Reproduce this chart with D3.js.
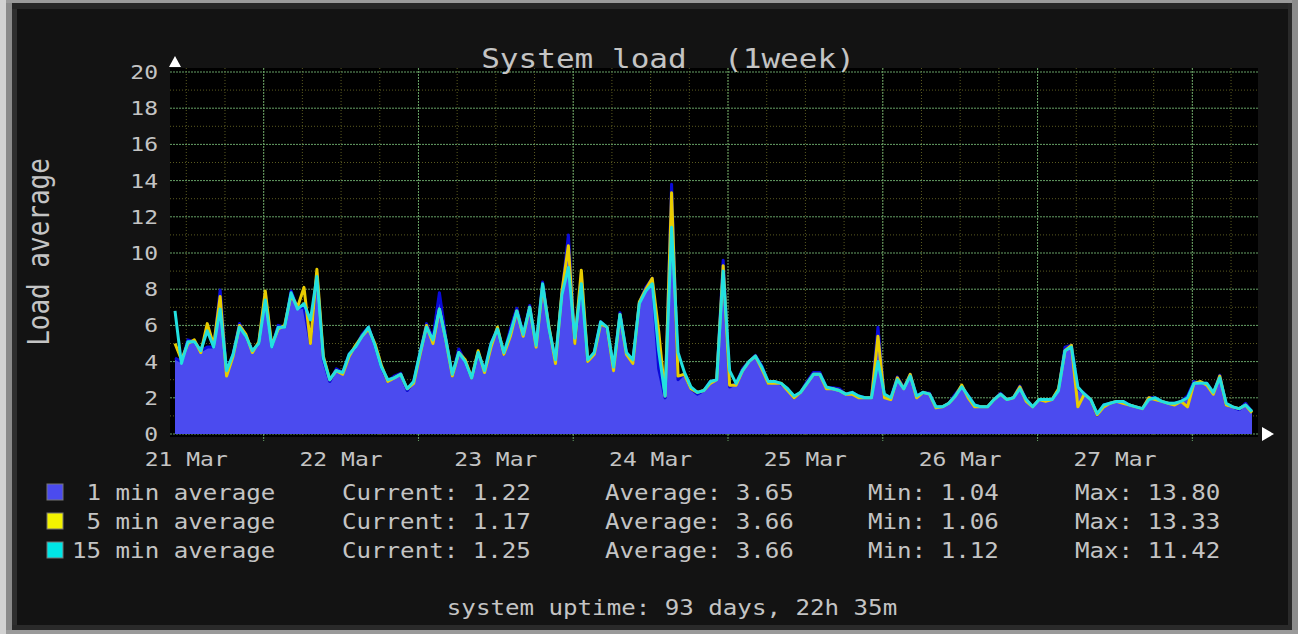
<!DOCTYPE html>
<html>
<head>
<meta charset="utf-8">
<script src="https://cdn.jsdelivr.net/npm/d3@7"></script>
<style>
  html, body { margin: 0; padding: 0; background: #131313; }
  text { font-family: "DejaVu Sans Mono", monospace; fill: #c4c4c4; white-space: pre; }
</style>
</head>
<body>
<svg id="chart"></svg>
<script>
const width = 1298;
const height = 634;

// hourly samples, starting 21 Mar 10:15
const startTime = new Date(2019, 2, 21, 10, 15);

const load1 = [
  4.2, 4.0, 5.2, 5.1, 4.6, 4.8, 4.8, 7.95, 3.4, 4.4,
  6.1, 5.4, 4.6, 5.0, 7.8, 4.8, 6.0, 5.9, 7.9, 6.95,
  7.0, 5.0, 8.9, 4.1, 2.9, 3.6, 3.4, 4.4, 4.8, 5.5,
  5.9, 4.9, 3.7, 2.9, 3.2, 3.35, 2.4, 2.9, 4.5, 6.1,
  5.3, 7.8, 5.3, 3.2, 4.7, 4.0, 3.1, 4.5, 3.5, 5.0,
  5.85, 4.4, 5.8, 6.95, 5.5, 7.1, 4.9, 8.4, 5.85, 4.0,
  7.8, 11.0, 5.0, 8.8, 4.0, 4.5, 6.2, 5.85, 3.6, 6.7,
  4.5, 4.0, 7.25, 8.1, 8.6, 3.6, 2.0, 13.8, 3.0, 3.35,
  2.5, 2.2, 2.4, 2.9, 3.0, 9.6, 2.6, 2.8, 3.6, 4.0,
  4.35, 3.75, 2.8, 2.9, 2.75, 2.5, 2.0, 2.3, 2.9, 3.4,
  3.4, 2.55, 2.55, 2.5, 2.2, 2.3, 2.1, 2.0, 2.0, 5.9,
  2.0, 2.0, 3.15, 2.55, 3.3, 2.1, 2.3, 2.25, 1.5, 1.5,
  1.7, 2.2, 2.65, 2.1, 1.6, 1.5, 1.5, 1.9, 2.25, 1.9,
  2.0, 2.65, 1.9, 1.5, 1.9, 1.9, 1.9, 2.45, 4.8, 4.9,
  2.5, 2.25, 1.9, 1.04, 1.6, 1.7, 1.8, 1.8, 1.6, 1.5,
  1.4, 2.0, 2.0, 1.8, 1.7, 1.7, 1.8, 2.1, 2.9, 2.8,
  2.8, 2.25, 3.25, 1.6, 1.5, 1.35, 1.7, 1.22
];

const load5 = [
  5.0, 4.1, 5.0, 5.2, 4.5, 6.1, 4.9, 7.6, 3.2, 4.3,
  6.0, 5.5, 4.5, 5.1, 7.9, 4.9, 5.8, 6.0, 7.7, 7.0,
  8.1, 5.0, 9.1, 4.3, 3.0, 3.5, 3.3, 4.3, 4.9, 5.4,
  5.8, 5.0, 3.8, 2.9, 3.1, 3.3, 2.5, 2.8, 4.4, 6.0,
  5.0, 6.9, 5.2, 3.2, 4.5, 4.1, 3.1, 4.6, 3.4, 4.8,
  5.9, 4.4, 5.4, 6.8, 5.4, 7.0, 4.8, 8.2, 5.9, 3.9,
  7.9, 10.4, 5.0, 9.05, 4.0, 4.4, 6.1, 5.9, 3.5, 6.6,
  4.4, 3.9, 7.3, 8.0, 8.6, 5.7, 2.1, 13.33, 3.2, 3.3,
  2.5, 2.3, 2.4, 2.8, 3.0, 9.3, 2.7, 2.7, 3.5, 4.0,
  4.3, 3.6, 2.8, 2.8, 2.8, 2.4, 2.0, 2.3, 2.8, 3.3,
  3.3, 2.5, 2.5, 2.4, 2.2, 2.2, 2.0, 2.0, 2.0, 5.4,
  2.0, 1.9, 3.1, 2.5, 3.3, 2.0, 2.3, 2.2, 1.45, 1.5,
  1.7, 2.1, 2.7, 2.0, 1.5, 1.5, 1.5, 1.9, 2.2, 1.9,
  2.0, 2.6, 1.8, 1.5, 1.9, 1.8, 1.9, 2.5, 4.6, 4.9,
  1.5, 2.2, 1.9, 1.06, 1.5, 1.7, 1.8, 1.7, 1.6, 1.5,
  1.4, 2.0, 1.9, 1.8, 1.7, 1.6, 1.8, 1.5, 2.8, 2.9,
  2.7, 2.2, 3.2, 1.6, 1.5, 1.4, 1.6, 1.17
];

const load15 = [
  6.8, 3.9, 5.1, 5.1, 4.6, 5.7, 4.8, 6.9, 3.5, 4.4,
  5.9, 5.4, 4.6, 5.0, 7.4, 4.8, 5.9, 5.9, 7.8, 6.9,
  7.2, 6.3, 8.7, 4.2, 3.0, 3.5, 3.4, 4.4, 4.8, 5.4,
  5.9, 4.9, 3.7, 3.0, 3.1, 3.3, 2.5, 2.9, 4.5, 5.9,
  5.2, 6.9, 5.2, 3.3, 4.5, 4.0, 3.1, 4.5, 3.5, 5.0,
  5.8, 4.5, 5.6, 6.8, 5.5, 7.0, 4.9, 8.3, 5.8, 4.1,
  7.7, 9.2, 5.3, 8.3, 4.1, 4.5, 6.2, 5.9, 3.7, 6.6,
  4.5, 4.1, 7.2, 7.9, 8.3, 4.6, 2.1, 11.42, 4.5, 3.4,
  2.6, 2.3, 2.4, 2.9, 3.0, 9.0, 3.5, 2.8, 3.5, 4.0,
  4.3, 3.7, 2.9, 2.9, 2.8, 2.5, 2.1, 2.3, 2.8, 3.3,
  3.3, 2.6, 2.5, 2.4, 2.2, 2.3, 2.1, 2.0, 2.0, 4.0,
  2.2, 2.0, 3.0, 2.5, 3.2, 2.1, 2.3, 2.2, 1.5, 1.5,
  1.7, 2.1, 2.6, 2.1, 1.6, 1.5, 1.5, 1.9, 2.2, 1.9,
  2.0, 2.5, 1.9, 1.5, 1.9, 1.9, 1.9, 2.4, 4.6, 4.8,
  2.6, 2.2, 1.9, 1.12, 1.6, 1.7, 1.8, 1.8, 1.6, 1.5,
  1.4, 1.9, 2.0, 1.8, 1.7, 1.7, 1.8, 2.0, 2.8, 2.8,
  2.8, 2.3, 3.1, 1.7, 1.5, 1.4, 1.6, 1.25
];

const yTicks = [0, 2, 4, 6, 8, 10, 12, 14, 16, 18, 20];

const legendLabels = [" 1 min average", " 5 min average", "15 min average"];
const legendColors = ["#4b4bef", "#f2f200", "#00e6e6"];
const currentVals = ["1.22", "1.17", "1.25"];
const averageVals = ["3.65", "3.66", "3.66"];
const minVals = ["1.04", "1.06", "1.12"];
const maxVals = ["13.80", "13.33", "11.42"];

const sx = 1.15; // text in the picture is a bit wider than normal

const svg = d3.select("#chart")
  .attr("width", width)
  .attr("height", height)
  .attr("viewBox", [0, 0, width, height]);

function label(parent, x, y, str, size, anchor) {
  return parent.append("text")
    .attr("xml:space", "preserve")
    .attr("transform", `translate(${x},${y}) scale(${sx},1)`)
    .attr("text-anchor", anchor || "start")
    .style("font-size", size + "px")
    .text(str);
}

// frame
svg.append("rect").attr("width", width).attr("height", height).attr("fill", "#131313");
svg.append("rect").attr("x", 0).attr("y", 0).attr("width", 6).attr("height", height).attr("fill", "#d2d2d2");
svg.append("rect").attr("x", 6).attr("y", 0).attr("width", 6).attr("height", height).attr("fill", "#8a8a8a");
svg.append("rect").attr("x", 12).attr("y", 3).attr("width", 5).attr("height", height - 6).attr("fill", "#2e2e2e");
svg.append("rect").attr("x", 6).attr("y", 0).attr("width", width - 6).attr("height", 3).attr("fill", "#9a9a9a");
svg.append("rect").attr("x", 12).attr("y", 3).attr("width", width - 18).attr("height", 6).attr("fill", "#262626");
svg.append("rect").attr("x", width - 10).attr("y", 3).attr("width", 4).attr("height", height - 6).attr("fill", "#2a2a2a");
svg.append("rect").attr("x", width - 6).attr("y", 0).attr("width", 6).attr("height", height).attr("fill", "#8c8c8c");
svg.append("rect").attr("x", 12).attr("y", height - 9).attr("width", width - 18).attr("height", 5).attr("fill", "#2a2a2a");
svg.append("rect").attr("x", 6).attr("y", height - 4).attr("width", width - 6).attr("height", 4).attr("fill", "#9a9a9a");

// scales
const times = load1.map((d, i) => d3.timeHour.offset(startTime, i));
const tEnd = times[times.length - 1];
const x = d3.scaleTime()
  .domain([times[0], tEnd])
  .range([175, 1252]);
const y = d3.scaleLinear().domain([0, 20]).range([434, 72]);

// canvas
svg.append("rect")
  .attr("x", 170).attr("y", 68)
  .attr("width", 1088).attr("height", 369)
  .attr("fill", "#000");

const grid = svg.append("g");
const minorY = d3.range(1, 20, 2);
const minorX = d3.timeHour.every(6).range(times[0], tEnd);
const majorX = d3.timeDay.range(times[0], tEnd);

grid.selectAll(".hmin")
  .data(minorY)
  .join("line")
  .attr("x1", 170).attr("x2", 1258)
  .attr("y1", d => y(d)).attr("y2", d => y(d))
  .attr("stroke", "#5a5a20").attr("stroke-dasharray", "1,2");

grid.selectAll(".vmin")
  .data(minorX)
  .join("line")
  .attr("x1", d => x(d)).attr("x2", d => x(d))
  .attr("y1", 68).attr("y2", 437)
  .attr("stroke", "#5a5a20").attr("stroke-dasharray", "1,2");

grid.selectAll(".hmaj")
  .data(yTicks)
  .join("line")
  .attr("x1", 170).attr("x2", 1258)
  .attr("y1", d => y(d)).attr("y2", d => y(d))
  .attr("stroke", "#66a066").attr("stroke-dasharray", "2,1");

grid.selectAll(".vmaj")
  .data(majorX)
  .join("line")
  .attr("x1", d => x(d)).attr("x2", d => x(d))
  .attr("y1", 68).attr("y2", 441)
  .attr("stroke", "#66a066").attr("stroke-dasharray", "2,1");

// series
const area = d3.area()
  .x((d, i) => x(times[i]))
  .y0(y(0))
  .y1(d => y(d));
const line = d3.line()
  .x((d, i) => x(times[i]))
  .y(d => y(d));

svg.append("path").datum(load1).attr("d", area).attr("fill", "#4b4bef");
svg.append("path").datum(load1).attr("d", line)
  .attr("fill", "none").attr("stroke", "#0a0ad8").attr("stroke-width", 3)
  .attr("stroke-linejoin", "round");
svg.append("path").datum(load5).attr("d", line)
  .attr("fill", "none").attr("stroke", "#e8cc00").attr("stroke-width", 3)
  .attr("stroke-linejoin", "round");
svg.append("path").datum(load15).attr("d", line)
  .attr("fill", "none").attr("stroke", "#22e0e0").attr("stroke-width", 3)
  .attr("stroke-linejoin", "round");

// arrows
svg.append("path").attr("d", "M169,67 L175,56 L181,67 Z").attr("fill", "#fff");
svg.append("path").attr("d", "M1262,427 L1274,434 L1262,441 Z").attr("fill", "#fff");

// title and axis texts
label(svg, 668, 68, "System load  (1week)", 27, "middle");

svg.append("text")
  .attr("transform", `translate(49,252) scale(${sx},1) rotate(-90)`)
  .attr("text-anchor", "middle")
  .style("font-size", "26px")
  .text("Load average");

yTicks.forEach(d => label(svg, 158, y(d) + 7, d, 20, "end"));

// day labels sit at noon, only for days inside the graph
const fmt = d3.timeFormat("%d %b");
const noons = d3.timeDay.range(d3.timeDay.floor(times[0]), tEnd)
  .map(d => d3.timeHour.offset(d, 12))
  .filter(d => d <= tEnd);
noons.forEach(d => label(svg, x(d), 466, fmt(d), 20, "middle"));

// legend
legendLabels.forEach((name, i) => {
  const ty = 500 + i * 29;
  svg.append("rect")
    .attr("x", 47).attr("y", ty - 16)
    .attr("width", 16).attr("height", 16)
    .attr("fill", legendColors[i])
    .attr("stroke", "#777").attr("stroke-width", 1);
  label(svg, 72, ty, name, 21);
  label(svg, 342, ty, "Current: " + currentVals[i], 21);
  label(svg, 605, ty, "Average: " + averageVals[i], 21);
  label(svg, 868, ty, "Min: " + minVals[i], 21);
  label(svg, 1075, ty, "Max: " + maxVals[i], 21);
});

label(svg, 672, 615, "system uptime: 93 days, 22h 35m", 21, "middle");
</script>
</body>
</html>
